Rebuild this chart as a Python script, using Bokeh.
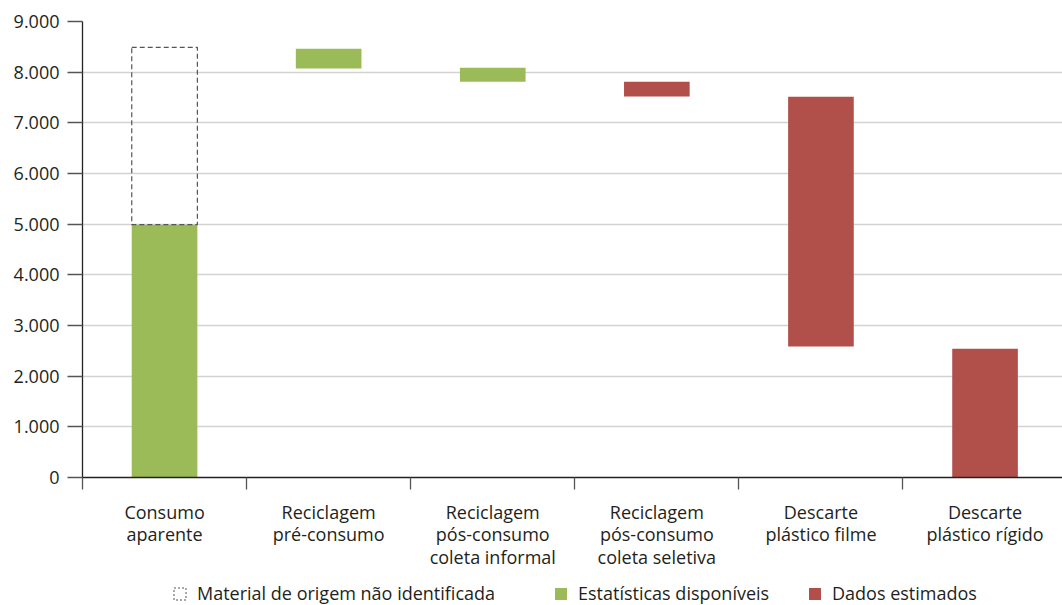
from bokeh.plotting import figure
from bokeh.layouts import column
from bokeh.models import ColumnDataSource, FixedTicker, Range1d, Legend, LegendItem
from bokeh.embed import file_html
from bokeh.resources import INLINE

# ---- data ----
categories = [
    "Consumo\naparente",
    "Reciclagem\npré-consumo",
    "Reciclagem\npós-consumo\ncoleta informal",
    "Reciclagem\npós-consumo\ncoleta seletiva",
    "Descarte\nplástico filme",
    "Descarte\nplástico rígido",
]
bar_bottom = [0, 8070, 7810, 7520, 2585, 0]
bar_top = [4990, 8460, 8085, 7810, 7515, 2540]
bar_series = ["Estatísticas disponíveis", "Estatísticas disponíveis", "Estatísticas disponíveis",
              "Dados estimados", "Dados estimados", "Dados estimados"]
unidentified_bottom = [4990]
unidentified_top = [8490]
y_ticks = [0, 1000, 2000, 3000, 4000, 5000, 6000, 7000, 8000, 9000]
y_tick_labels = ["0", "1.000", "2.000", "3.000", "4.000", "5.000", "6.000", "7.000", "8.000", "9.000"]
legend_labels = ["Material de origem não identificada", "Estatísticas disponíveis", "Dados estimados"]

GREEN = "#9BBB59"
RED = "#B1504A"
TEXT = "#231f20"
FONT = "Open Sans"
FS = "18px"
NAN = float("nan")

xc = [i + 0.5 for i in range(len(categories))]

def subset(name):
    idx = [i for i, s in enumerate(bar_series) if s == name]
    return ColumnDataSource(dict(x=[xc[i] for i in idx],
                                 bottom=[bar_bottom[i] for i in idx],
                                 top=[bar_top[i] for i in idx]))

p = figure(width=1062, height=573, output_backend="svg", toolbar_location=None,
           x_range=Range1d(0, 5.972), y_range=Range1d(0, 9000),
           min_border_left=82, min_border_right=0, min_border_top=21, min_border_bottom=96)
p.outline_line_color = None
p.background_fill_color = "white"
p.border_fill_color = "white"
p.xgrid.visible = False
p.ygrid.grid_line_color = "#d3d3d3"
p.ygrid.grid_line_width = 1.4

p.vbar(x="x", bottom="bottom", top="top", width=0.4, source=subset(legend_labels[1]),
       fill_color=GREEN, line_color=None)
p.vbar(x="x", bottom="bottom", top="top", width=0.4, source=subset(legend_labels[2]),
       fill_color=RED, line_color=None)
p.vbar(x=[xc[0]], bottom=unidentified_bottom, top=unidentified_top, width=0.4,
       fill_color="white", fill_alpha=0, line_color="#555555", line_width=1.2,
       line_dash="5 3")

# y axis
ya = p.yaxis[0]
ya.ticker = FixedTicker(ticks=y_ticks, minor_ticks=[])
ya.major_label_overrides = {t: l for t, l in zip(y_ticks, y_tick_labels)}
ya.major_tick_out = 15
ya.major_tick_in = 0
ya.major_tick_line_color = "#555555"
ya.major_tick_line_width = 1.3
ya.minor_tick_line_color = None
ya.axis_line_color = "#222222"
ya.axis_line_width = 1.3
ya.major_label_standoff = 8
ya.major_label_text_font = FONT
ya.major_label_text_font_size = FS
ya.major_label_text_color = TEXT

# x axis: labels at centres, ticks at boundaries (minor ticks)
xa = p.xaxis[0]
xa.ticker = FixedTicker(ticks=xc, minor_ticks=list(range(len(categories) + 1)))
xa.major_label_overrides = {x: c for x, c in zip(xc, categories)}
xa.major_tick_out = 0
xa.major_tick_in = 0
xa.major_tick_line_color = None
xa.minor_tick_out = 12
xa.minor_tick_in = 0
xa.minor_tick_line_color = "#555555"
xa.minor_tick_line_width = 1.3
xa.axis_line_color = "#222222"
xa.axis_line_width = 1.3
xa.major_label_standoff = 10
xa.major_label_text_font = FONT
xa.major_label_text_font_size = FS
xa.major_label_text_color = TEXT
xa.major_label_text_line_height = 0.95

# ---- legend strip ----
p2 = figure(width=1062, height=32, output_backend="svg", toolbar_location=None,
            x_range=Range1d(0, 1), y_range=Range1d(0, 1),
            x_axis_location=None, y_axis_location=None,
            min_border=0)
p2.outline_line_color = None
p2.grid.visible = False
l_dash = p2.rect(x=[NAN], y=[NAN], width=1, height=1, fill_alpha=0,
                 line_color="#555555", line_width=1, line_dash="2 2")
l_green = p2.rect(x=[NAN], y=[NAN], width=1, height=1, fill_color=GREEN, line_color=None)
l_red = p2.rect(x=[NAN], y=[NAN], width=1, height=1, fill_color=RED, line_color=None)

legend_renderers = [l_dash, l_green, l_red]
legend_x = [90, 471, 725]   # offsets from the plot's left frame edge
for lab, rend, lx in zip(legend_labels, legend_renderers, legend_x):
    lg = Legend(items=[LegendItem(label=lab, renderers=[rend])],
                orientation="horizontal", location=(lx, 0), padding=0, margin=0,
                label_standoff=10, glyph_width=15, glyph_height=15,
                border_line_color=None, background_fill_alpha=0,
                label_text_font=FONT, label_text_font_size=FS, label_text_color=TEXT)
    p2.add_layout(lg)

layout = column(p, p2, spacing=0)
open("out.html", "w").write(file_html(layout, INLINE))
